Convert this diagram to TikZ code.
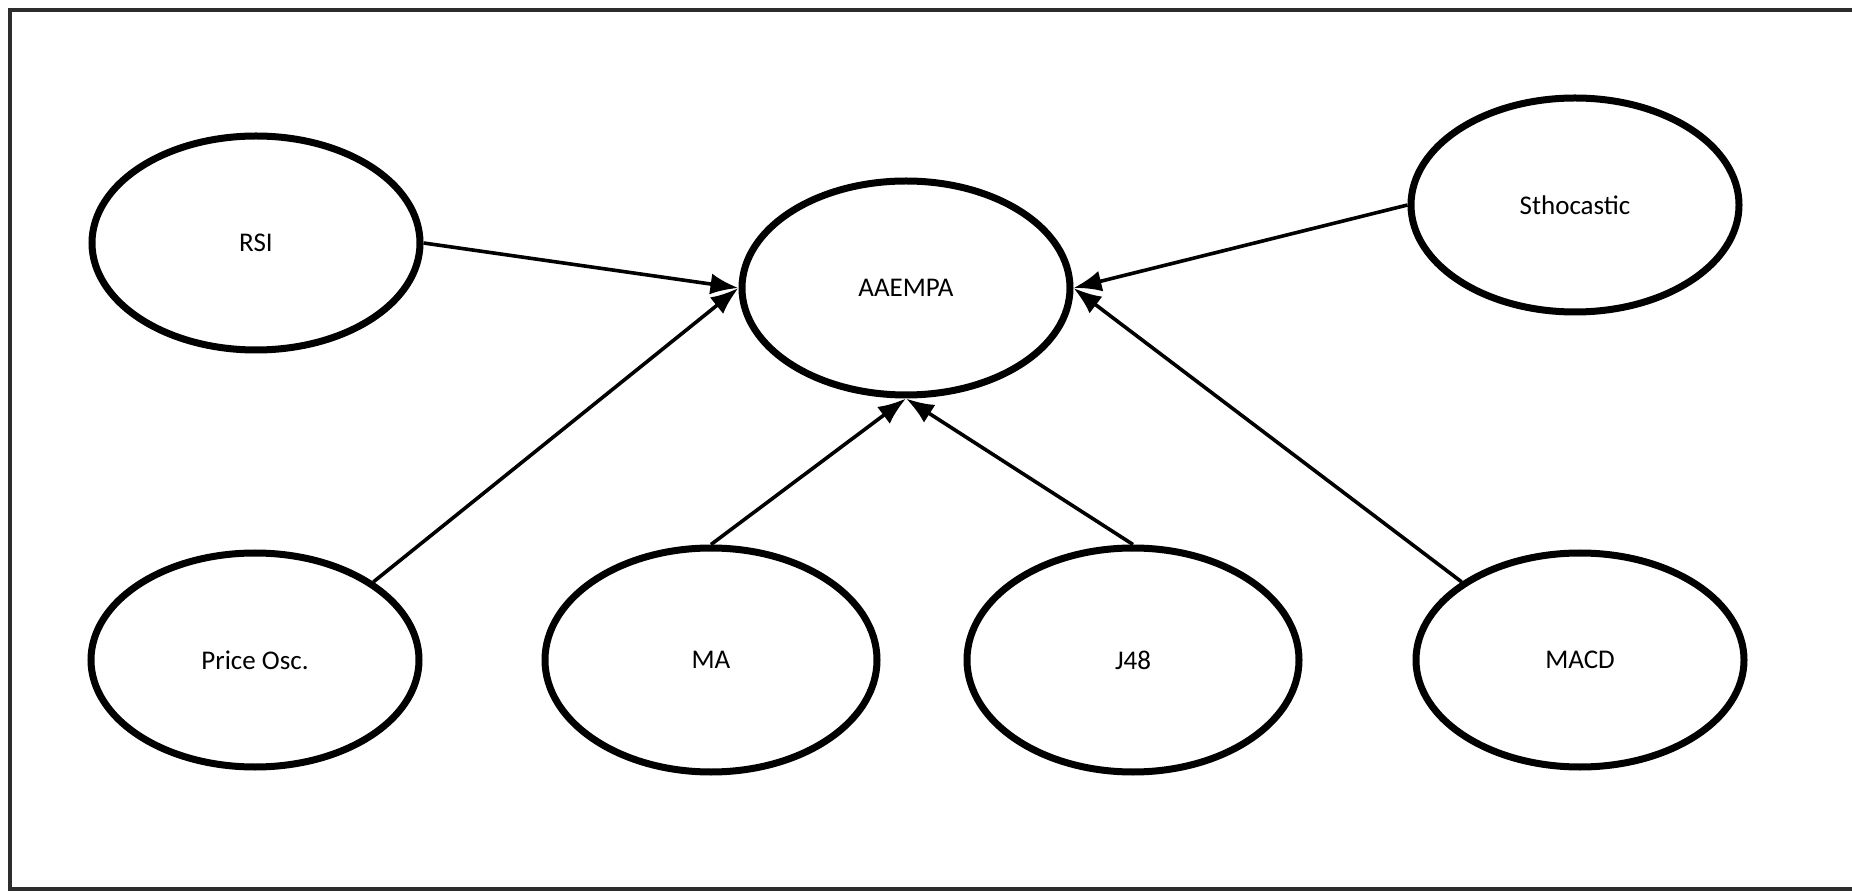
\documentclass[tikz,border=0pt]{standalone}
\usepackage{fontspec}
\setmainfont{Carlito}
\usetikzlibrary{arrows.meta,shapes.geometric}
\definecolor{framegray}{RGB}{45,45,45}
\tikzset{
  font=\fontsize{13.5}{16}\selectfont,
  >={Latex[length=14pt,width=10.5pt]},
  indicator/.style={
    ellipse,
    draw=black,
    line width=3.5pt,
    fill=white,
    minimum width=164pt,
    minimum height=107pt,
    inner sep=0pt
  },
  wideindicator/.style={indicator,minimum width=166pt,minimum height=112pt},
  arrow/.style={->,draw=black,line width=1.8pt},
  frame/.style={draw=framegray,line width=2pt}
}
\begin{document}
\begin{tikzpicture}[x=0.5pt,y=-0.5pt]

  \useasboundingbox (0,0) rectangle (1852,892);
  \fill[white] (0,0) rectangle (1852,892);
  \draw[frame] (1860,10) -- (10,10) -- (10,889) -- (1860,889);

  \node[indicator] at (906,288) (aaempa) {AAEMPA};

  \node[indicator] at (256,243) (rsi) {RSI};
  \node[indicator] at (1575,205) (stoch) {Sthocastic};

  \node[indicator] at (255,660) (price) {Price Osc.};
  \node[wideindicator] at (711,660) (ma) {MA};
  \node[wideindicator] at (1133,660) (jfe) {J48};
  \node[indicator] at (1580,660) (macd) {MACD};

  \draw[arrow] (rsi.east) -- (aaempa.west);
  \draw[arrow] (price.north east) -- (aaempa.west);
  \draw[arrow] (ma.north) -- (aaempa.south);
  \draw[arrow] (jfe.north) -- (aaempa.south);
  \draw[arrow] (stoch.west) -- (aaempa.east);
  \draw[arrow] (macd.north west) -- (aaempa.east);

\end{tikzpicture}
\end{document}
